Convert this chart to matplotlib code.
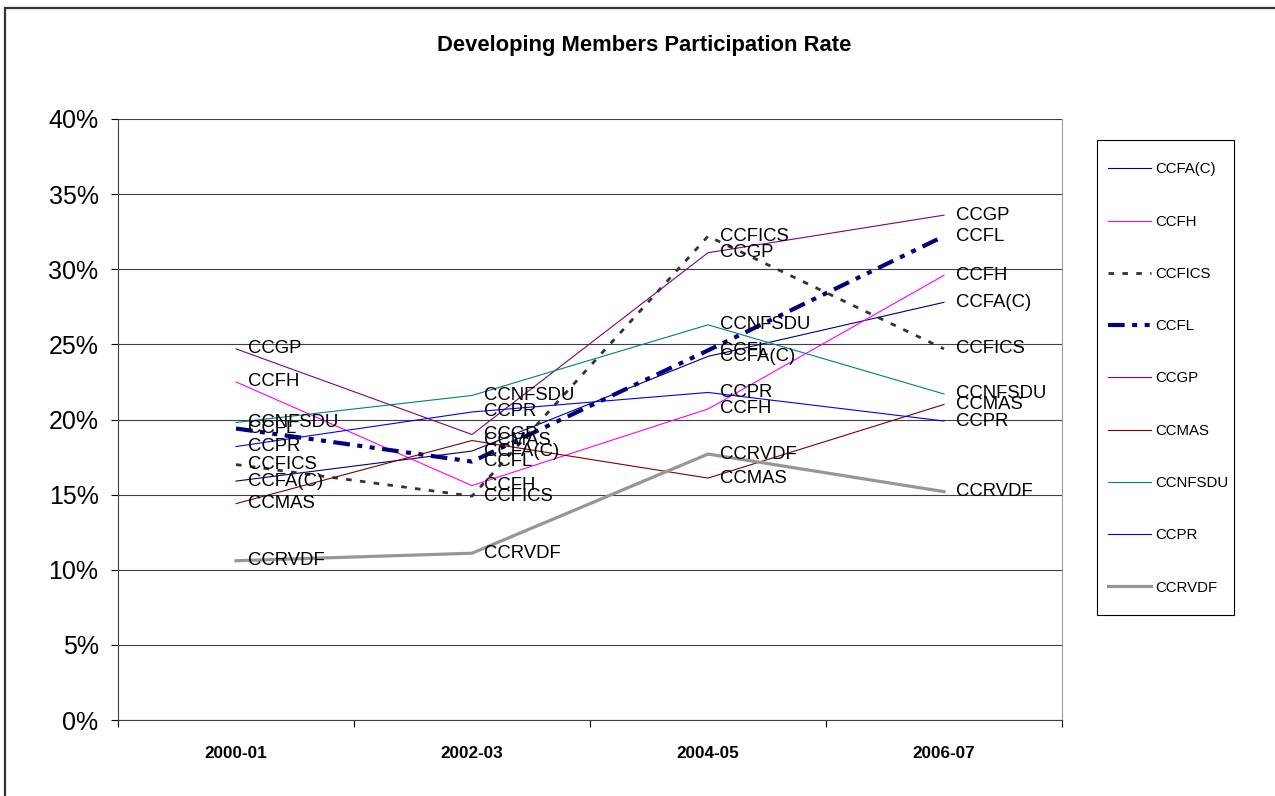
import numpy as np
import matplotlib.pyplot as plt
from matplotlib.patches import Rectangle

plt.rcParams['font.family'] = ['Liberation Sans', 'DejaVu Sans']

periods = ['2000-01', '2002-03', '2004-05', '2006-07']

# participation rate (%) per committee
ccfa_c = [15.9, 17.9, 24.2, 27.8]
ccfh = [22.5, 15.6, 20.7, 29.6]
ccfics = [17.0, 14.9, 32.2, 24.7]
ccfl = [19.4, 17.2, 24.6, 32.2]
ccgp = [24.7, 19.0, 31.1, 33.6]
ccmas = [14.4, 18.6, 16.1, 21.0]
ccnfsdu = [19.8, 21.6, 26.3, 21.7]
ccpr = [18.2, 20.5, 21.8, 19.9]
ccrvdf = [10.6, 11.1, 17.7, 15.2]

names = ['CCFA(C)', 'CCFH', 'CCFICS', 'CCFL', 'CCGP', 'CCMAS', 'CCNFSDU', 'CCPR', 'CCRVDF']
series = [ccfa_c, ccfh, ccfics, ccfl, ccgp, ccmas, ccnfsdu, ccpr, ccrvdf]

styles = {
    'CCFA(C)': dict(color='#000080', lw=0.8),
    'CCFH': dict(color='#FF00FF', lw=0.8),
    'CCFICS': dict(color='#333333', lw=2.0, dashes=(2, 3)),
    'CCFL': dict(color='#000080', lw=3.0, dashes=(4, 1.8, 1.2, 1.8, 1.2, 1.8)),
    'CCGP': dict(color='#800080', lw=0.8),
    'CCMAS': dict(color='#800000', lw=0.8),
    'CCNFSDU': dict(color='#008080', lw=0.8),
    'CCPR': dict(color='#0000FF', lw=0.8),
    'CCRVDF': dict(color='#969696', lw=2.3),
}

fig = plt.figure(figsize=(12.75, 7.96), dpi=100)
ax = fig.add_axes([118 / 1275, 76 / 796, 944 / 1275, 601 / 796])

x = np.arange(len(periods))
for name, vals in zip(names, series):
    v = np.array(vals) / 100
    ax.plot(x, v, label=name, **styles[name])
    for xi, yi in zip(x, v):
        ax.annotate(name, (xi, yi), xytext=(8.5, 0), textcoords='offset points',
                    va='center', ha='left', fontsize=13.3, color='black')

ax.set_xlim(-0.5, 3.5)
ax.set_ylim(0, 0.40)
yt = np.arange(0, 0.401, 0.05)
ax.set_yticks(yt)
ax.set_yticklabels([f'{int(round(t * 100))}%' for t in yt], fontsize=18)
ax.tick_params(axis='y', length=5, width=0.8, direction='out', pad=9)
ax.set_xticks(x)
ax.set_xticklabels(periods, fontsize=12.3, fontweight='bold')
ax.set_xticks(np.arange(-0.5, 3.6, 1), minor=True)
ax.tick_params(axis='x', which='major', length=0, pad=19)
ax.tick_params(axis='x', which='minor', length=5, width=0.8, direction='out')
ax.grid(axis='y', color='#404040', lw=0.8)
ax.set_axisbelow(True)
ax.spines['top'].set_visible(False)
ax.spines['right'].set_color('#a0a0a0')
ax.spines['left'].set_color('#404040')
ax.spines['bottom'].set_color('#404040')

fig.text(0.5055, 1 - 45 / 796, 'Developing Members Participation Rate',
         ha='center', va='center', fontsize=15.8, fontweight='bold')

leg = ax.legend(loc='upper left', bbox_to_anchor=(1100 / 1275, 1 - 155 / 796),
                bbox_transform=fig.transFigure, fontsize=10.8, frameon=False,
                borderpad=0.5, labelspacing=2.55,
                handlelength=2.9, handletextpad=0.3, borderaxespad=0)

# legend frame
fig.patches.append(Rectangle((1097 / 1275, 1 - 615 / 796), 137 / 1275, 475 / 796,
                             transform=fig.transFigure, fill=False,
                             edgecolor='black', lw=0.8))

# outer chart border
fig.patches.append(Rectangle((5 / 1275, -0.2), 1.2, 1.2 - 8 / 796,
                             transform=fig.transFigure, fill=False,
                             edgecolor='#333333', lw=1.6))

fig.savefig('out.png', dpi=100)
